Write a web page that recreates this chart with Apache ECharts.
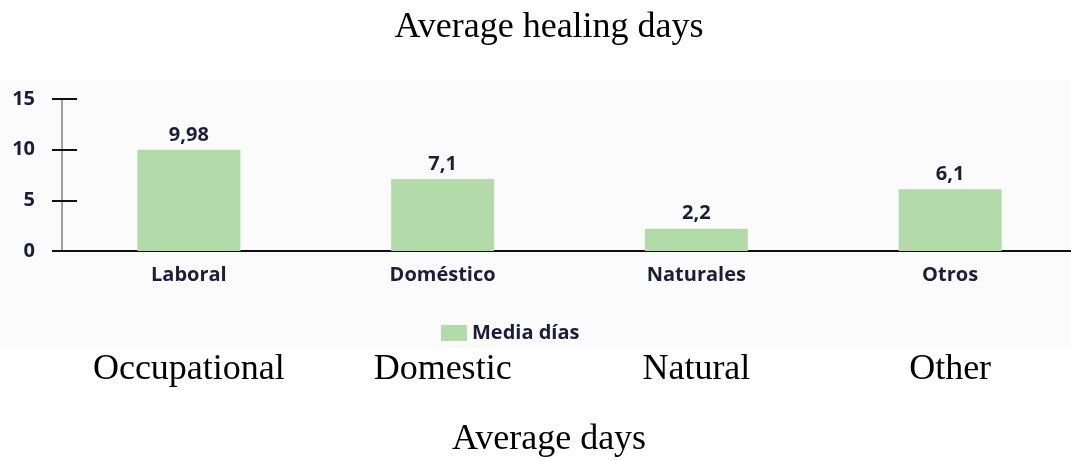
<!DOCTYPE html>
<html>
<head>
<meta charset="utf-8">
<script src="https://cdn.jsdelivr.net/npm/echarts@6/dist/echarts.min.js"></script>
<style>
  html, body { margin: 0; padding: 0; background: #fff; overflow: hidden; }
  #chart { width: 1090px; height: 461px; }
</style>
</head>
<body>
<div id="chart"></div>
<script>
// datos del grafico
var categorias = ['Laboral', 'Doméstico', 'Naturales', 'Otros'];
var categoriasEn = ['Occupational', 'Domestic', 'Natural', 'Other'];
var mediaDias = [9.98, 7.1, 2.2, 6.1];
var serieNombre = 'Media días';
var titulo = 'Average healing days';
var tituloAbajo = 'Average days';

var chart = echarts.init(document.getElementById('chart'));
var sans = 'Open Sans';
var serif = 'Liberation Serif';
var oscuro = '#1d1d3b';

var option = {
    backgroundColor: '#fff',
    animation: false,
    graphic: [
        {
            type: 'rect', z: -10, silent: true,
            shape: { x: 0, y: 80, width: 1090, height: 268 },
            style: { fill: '#fbfbfb' }
        },
        {
            type: 'text', x: 549, y: 28,
            style: { text: titulo, font: '36px "' + serif + '"', fill: '#000', textAlign: 'center', textVerticalAlign: 'middle' }
        },
        {
            type: 'text', x: 549, y: 440,
            style: { text: tituloAbajo, font: '36px "' + serif + '"', fill: '#000', textAlign: 'center', textVerticalAlign: 'middle' }
        }
    ],
    legend: {
        left: 436,
        top: 318,
        itemWidth: 26,
        itemHeight: 16,
        icon: 'rect',
        textStyle: { fontFamily: sans, fontWeight: 'bold', fontSize: 20, color: oscuro },
        data: [serieNombre]
    },
    grid: {
        left: 62,
        top: 99,
        width: 1015,
        bottom: 210
    },
    xAxis: [
        {
            type: 'category',
            data: categorias,
            axisLine: { lineStyle: { color: '#111', width: 2 } },
            axisTick: { show: false },
            axisLabel: { margin: 14, fontFamily: sans, fontWeight: 'bold', fontSize: 20, color: oscuro }
        },
        {
            type: 'category',
            position: 'bottom',
            data: categoriasEn,
            axisLine: { show: false },
            axisTick: { show: false },
            axisLabel: { margin: 101, fontFamily: serif, fontSize: 36, color: '#000' }
        }
    ],
    yAxis: [
        {
            type: 'value',
            min: 0,
            max: 15,
            interval: 5,
            splitLine: { show: false },
            axisLine: { show: true, lineStyle: { color: '#a0a0a0', width: 2 } },
            axisTick: { show: true, length: 10, lineStyle: { color: '#111', width: 2 } },
            axisLabel: { margin: 27, fontFamily: sans, fontWeight: 'bold', fontSize: 20, color: oscuro }
        },
        {
            type: 'value',
            min: 0,
            max: 15,
            interval: 5,
            position: 'left',
            splitLine: { show: false },
            axisLine: { show: false },
            axisTick: { show: true, inside: true, length: 15, lineStyle: { color: '#111', width: 2 } },
            axisLabel: { show: false }
        }
    ],
    series: [
        {
            name: serieNombre,
            type: 'bar',
            data: mediaDias,
            barWidth: 103,
            itemStyle: { color: '#b3dba9' },
            label: {
                show: true,
                position: 'top',
                distance: 5,
                fontFamily: sans,
                fontWeight: 'bold',
                fontSize: 20,
                color: oscuro,
                formatter: function (p) {
                    return String(p.value).replace('.', ',');
                }
            }
        }
    ]
};
chart.setOption(option);
</script>
</body>
</html>
